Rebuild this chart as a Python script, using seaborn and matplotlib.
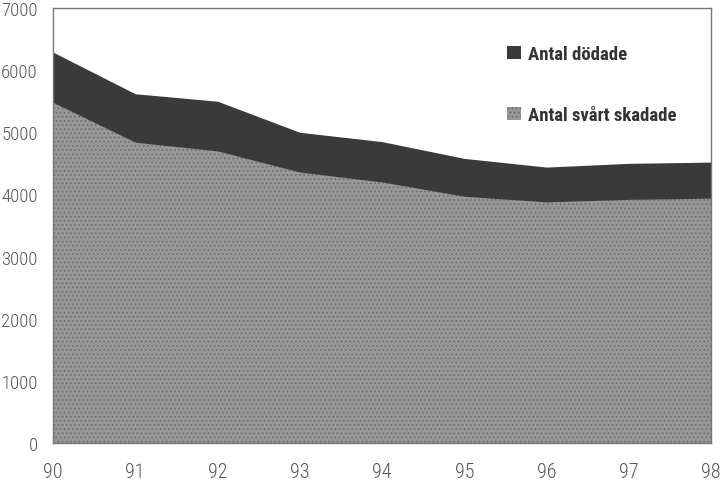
import matplotlib
matplotlib.use("Agg")
import matplotlib.pyplot as plt
import seaborn as sns

# values (stacked: injured at bottom, killed on top)
years = [90, 91, 92, 93, 94, 95, 96, 97, 98]
svart_skadade = [5480, 4840, 4700, 4360, 4200, 3970, 3880, 3920, 3940]
dodade = [810, 780, 800, 640, 650, 610, 560, 580, 580]
labels = ["Antal svårt skadade", "Antal dödade"]
y_ticks = [0, 1000, 2000, 3000, 4000, 5000, 6000, 7000]

sns.set_theme(style="white")
plt.rcParams["font.family"] = ["Roboto Condensed", "DejaVu Sans"]
plt.rcParams["hatch.linewidth"] = 0.7

fig = plt.figure(figsize=(7.22, 4.85), dpi=100)
ax = fig.add_axes([53 / 722, 1 - 444 / 485, 658 / 722, 435 / 485])

polys = ax.stackplot(years, svart_skadade, dodade,
                     colors=["#979797", "#3a3a3a"], labels=labels, linewidth=0)
polys[0].set_hatch("....")
polys[0].set_edgecolor("#6c6c6c")

ax.set_xlim(90, 98)
ax.set_ylim(0, 7000)
ax.set_xticks(years)
ax.set_yticks(y_ticks)
ax.tick_params(axis="both", colors="#777777", labelcolor="#555555", width=0.8)
ax.tick_params(axis="y", direction="in", length=4, pad=11, labelsize=13.5)
ax.tick_params(axis="x", direction="inout", length=8, pad=10, labelsize=14.5)
for t in ax.get_xticklabels() + ax.get_yticklabels():
    t.set_fontweight("light")
for side in ["left", "bottom", "top", "right"]:
    ax.spines[side].set_color("#777777")
    ax.spines[side].set_linewidth(1.0)

h, l = ax.get_legend_handles_labels()
leg = ax.legend(h[::-1], l[::-1], loc="upper left", bbox_to_anchor=(0.69, 0.915),
                frameon=False, borderpad=0, borderaxespad=0,
                handlelength=0.75, handleheight=0.75,
                handletextpad=0.35, labelspacing=2.3,
                prop={"family": ["Roboto Condensed", "DejaVu Sans"],
                      "weight": "bold", "size": 13.5})
for t in leg.get_texts():
    t.set_color("#333333")

fig.savefig("out.png", dpi=100)
